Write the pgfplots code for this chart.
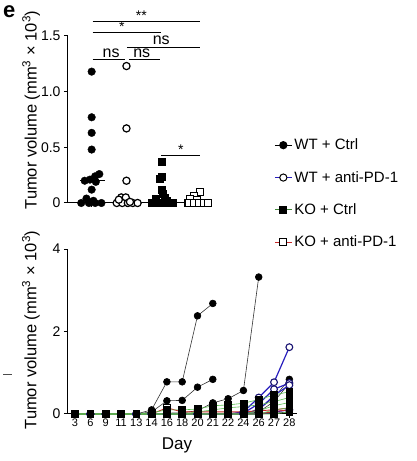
\documentclass[border=0pt]{standalone}
\usepackage{pgfplots}
\pgfplotsset{compat=1.18}
\usepackage{fontspec}
\setmainfont{Liberation Sans}
\definecolor{wtblue}{RGB}{40,30,190}
\definecolor{kogreen}{RGB}{90,190,80}
\definecolor{kored}{RGB}{200,40,40}
\pgfplotsset{
  common/.style={scale only axis, axis x line=bottom, axis y line=left,
    axis line style={-, line width=1pt}, tick align=outside, major tick length=4pt,
    tick style={line width=1pt, black}, /pgf/number format/assume math mode=true,
    clip=false},
  wtc/.style={black!80, line width=0.6pt, mark=*, mark size=3.4pt, mark options={fill=black, draw=black}},
  wta/.style={wtblue, line width=1.2pt, mark=*, mark size=3.4pt, mark options={fill=white, draw=wtblue!60!black, line width=1.1pt}},
  kor/.style={kored, line width=0.9pt, mark=square*, mark size=3.2pt, mark options={fill=white, draw=black, line width=1pt}},
  kog/.style={kogreen, line width=0.6pt, mark=square*, mark size=3.4pt, mark options={fill=black, draw=black}},
}
\begin{document}
\begin{tikzpicture}[x=1pt,y=1pt]
\path[use as bounding box] (0pt,0pt) rectangle (416pt,461pt);
\node[font=\bfseries\fontsize{22}{22}\selectfont, anchor=base west, inner sep=0pt] at (3pt,443pt) {e};
\draw[line width=0.8pt, black!70] (3pt,87pt) -- (12pt,87pt);
% ---------- top panel ----------
\begin{axis}[common,
  at={(68pt,258pt)}, anchor=south west, width=142pt, height=167pt,
  xmin=-0.68, xmax=3.4, ymin=0, ymax=1.5,
  xtick={0,1,2,3}, xticklabels={},
  ytick={0,0.5,1,1.5}, yticklabels={0,0.5,1.0,1.5},
  ticklabel style={font=\fontsize{14}{14}\selectfont},
  ylabel={Tumor volume (mm\textsuperscript{3} × 10\textsuperscript{3})},
  ylabel style={font=\fontsize{16.5}{16.5}\selectfont, at={(axis description cs:-0.26,0.557)}, anchor=center},
]
\addplot[only marks, mark=*, mark size=3.8pt, black] coordinates {
 (0,1.18)(0,0.77)(0,0.63)(0,0.48)(-0.2,0.2)(-0.05,0.21)(0.1,0.24)(0.22,0.26)(0.12,0.19)(0,0.12)
 (-0.15,0.04)(-0.3,0)(-0.08,0)(0.1,0)(0.28,0)(0.05,0.02)};
\draw[line width=1pt] (axis cs:-0.33,0.2) -- (axis cs:0.38,0.2);
\addplot[only marks, mark=*, mark size=3.6pt, mark options={fill=white, draw=black, line width=1.2pt}] coordinates {
 (1,1.23)(1,0.67)(1,0.2)(0.85,0.05)(0.98,0.05)(0.72,0)(0.88,0)(1.04,0)(1.18,0)(1.32,0)(1.1,0.01)(0.78,0.03)};
\draw[line width=1pt] (axis cs:0.7,0) -- (axis cs:1.35,0);
\addplot[only marks, mark=square*, mark size=3.5pt, black] coordinates {
 (2,0.37)(2,0.24)(1.95,0.22)(2,0.12)(2.05,0.08)(1.85,0.04)(2.1,0.05)(1.72,0)(1.88,0)(2.03,0)(2.18,0)(2.32,0)(2.15,0.02)};
\addplot[only marks, mark=square*, mark size=3.4pt, mark options={fill=white, draw=black, line width=1.1pt}] coordinates {
 (3.12,0.1)(2.95,0.06)(2.82,0.04)(3.02,0.03)(2.78,0)(2.93,0)(3.08,0)(3.22,0)(3.34,0)};
% significance
\draw[line width=1pt] (axis cs:0.03,1.626) -- (axis cs:3.12,1.626);
\node[anchor=base, font=\fontsize{14}{14}\selectfont, inner sep=0pt] at (axis cs:1.43,1.636) {**};
\draw[line width=1pt] (axis cs:0.03,1.527) -- (axis cs:2.0,1.527);
\node[anchor=base, font=\fontsize{14}{14}\selectfont, inner sep=0pt] at (axis cs:0.87,1.537) {*};
\draw[line width=1pt] (axis cs:1.01,1.40) -- (axis cs:3.12,1.40);
\node[anchor=base, font=\fontsize{16}{16}\selectfont, inner sep=0pt] at (axis cs:2.0,1.425) {ns};
\draw[line width=1pt] (axis cs:0.03,1.285) -- (axis cs:0.97,1.285);
\node[anchor=base, font=\fontsize{16}{16}\selectfont, inner sep=0pt] at (axis cs:0.56,1.31) {ns};
\draw[line width=1pt] (axis cs:1.07,1.285) -- (axis cs:1.97,1.285);
\node[anchor=base, font=\fontsize{16}{16}\selectfont, inner sep=0pt] at (axis cs:1.44,1.31) {ns};
\draw[line width=1pt] (axis cs:2.0,0.43) -- (axis cs:3.12,0.43);
\node[anchor=base, font=\fontsize{14}{14}\selectfont, inner sep=0pt] at (axis cs:2.56,0.44) {*};
\end{axis}
% ---------- bottom panel ----------
\begin{axis}[common,
  at={(68pt,47pt)}, anchor=south west, width=229pt, height=165pt,
  xmin=-0.46, xmax=14.5, ymin=0, ymax=4,
  xtick={0,...,14}, xticklabels={3,6,9,11,13,14,16,18,20,21,22,24,26,27,28},
  ytick={0,2,4},
  xticklabel style={font=\fontsize{11}{11}\selectfont, inner sep=1pt},
  yticklabel style={font=\fontsize{14}{14}\selectfont},
  xlabel={Day}, xlabel style={font=\fontsize{17}{17}\selectfont, at={(axis description cs:0.476,-0.188)}, anchor=center},
  ylabel={Tumor volume (mm\textsuperscript{3} × 10\textsuperscript{3})},
  ylabel style={font=\fontsize{16.5}{16.5}\selectfont, at={(axis description cs:-0.162,0.509)}, anchor=center},
  legend style={at={(axis description cs:0.9,1.68)}, anchor=north west, draw=none, fill=none,
    font=\fontsize{15}{15}\selectfont, row sep=16pt, inner sep=0pt},
  legend cell align=left,
]
\addlegendimage{black, line width=1pt, mark=*, mark size=3.6pt}
\addlegendentry{WT + Ctrl}
\addlegendimage{wtblue, line width=1pt, mark=*, mark size=3.6pt, mark options={fill=white, draw=black, line width=1pt}}
\addlegendentry{WT + anti-PD-1}
\addlegendimage{kogreen!70!black, line width=1pt, mark=square*, mark size=3.6pt, mark options={fill=black, draw=black}}
\addlegendentry{KO + Ctrl}
\addlegendimage{kored, line width=1pt, mark=square*, mark size=3.6pt, mark options={fill=white, draw=black, line width=1pt}}
\addlegendentry{KO + anti-PD-1}
% WT + Ctrl
\addplot[wtc, forget plot] coordinates {(0,0)(1,0)(2,0)(3,0)(4,0)(5,0.1)(6,0.78)(7,0.78)(8,2.38)(9,2.68)};
\addplot[wtc, forget plot] coordinates {(0,0)(1,0)(2,0)(3,0)(4,0)(5,0.05)(6,0.32)(7,0.33)(8,0.65)(9,0.84)};
\addplot[wtc, forget plot] coordinates {(0,0)(1,0)(2,0)(3,0)(4,0)(5,0)(6,0.02)(7,0.03)(8,0.08)(9,0.27)(10,0.37)(11,0.57)(12,3.32)};
\addplot[wtc, forget plot] coordinates {(0,0)(1,0)(2,0)(3,0)(4,0)(5,0)(6,0)(7,0)(8,0)(9,0)(10,0)(11,0)(12,0.12)(13,0.4)(14,0.84)};
\addplot[wtc, forget plot] coordinates {(0,0)(1,0)(2,0)(3,0)(4,0)(5,0)(6,0)(7,0)(8,0)(9,0)(10,0)(11,0)(12,0.05)(13,0.3)(14,0.75)};
\addplot[wtc, forget plot] coordinates {(0,0)(1,0)(2,0)(3,0)(4,0)(5,0)(6,0)(7,0)(8,0)(9,0)(10,0)(11,0)(12,0)(13,0.02)(14,0.05)};
% WT + anti-PD-1
\addplot[wta, forget plot] coordinates {(0,0)(1,0)(2,0)(3,0)(4,0)(5,0)(6,0)(7,0)(8,0)(9,0)(10,0)(11,0.05)(12,0.4)(13,0.77)(14,1.62)};
\addplot[wta, forget plot] coordinates {(0,0)(1,0)(2,0)(3,0)(4,0)(5,0)(6,0)(7,0)(8,0)(9,0)(10,0)(11,0.02)(12,0.25)(13,0.6)(14,0.75)};
\addplot[wta, forget plot] coordinates {(0,0)(1,0)(2,0)(3,0)(4,0)(5,0)(6,0)(7,0)(8,0)(9,0)(10,0)(11,0)(12,0.1)(13,0.45)(14,0.7)};
\addplot[wta, forget plot] coordinates {(0,0)(1,0)(2,0)(3,0)(4,0)(5,0)(6,0)(7,0)(8,0)(9,0)(10,0)(11,0)(12,0)(13,0.05)(14,0.1)};
% KO + anti-PD-1
\addplot[kor, forget plot] coordinates {(0,0)(1,0)(2,0)(3,0)(4,0)(5,0)(6,0.15)(7,0.05)(8,0.05)(9,0.05)(10,0.05)(11,0.05)(12,0.08)(13,0.1)(14,0.15)};
\addplot[kor, forget plot] coordinates {(0,0)(1,0)(2,0)(3,0)(4,0)(5,0)(6,0)(7,0)(8,0)(9,0)(10,0)(11,0)(12,0)(13,0.06)(14,0.1)};
% KO + Ctrl
\addplot[kog, forget plot] coordinates {(0,0)(1,0)(2,0)(3,0)(4,0)(5,0.03)(6,0.1)(7,0.1)(8,0.12)(9,0.2)(10,0.22)(11,0.26)(12,0.35)(13,0.46)(14,0.54)};
\addplot[kog, forget plot] coordinates {(0,0)(1,0)(2,0)(3,0)(4,0)(5,0)(6,0)(7,0)(8,0.05)(9,0.1)(10,0.15)(11,0.18)(12,0.22)(13,0.3)(14,0.4)};
\addplot[kog, forget plot] coordinates {(0,0)(1,0)(2,0)(3,0)(4,0)(5,0)(6,0)(7,0)(8,0)(9,0)(10,0)(11,0)(12,0.08)(13,0.2)(14,0.28)};
\addplot[kog, forget plot] coordinates {(0,0)(1,0)(2,0)(3,0)(4,0)(5,0)(6,0)(7,0)(8,0)(9,0)(10,0)(11,0)(12,0)(13,0.1)(14,0.15)};
\addplot[kog, forget plot] coordinates {(0,0)(1,0)(2,0)(3,0)(4,0)(5,0)(6,0)(7,0)(8,0)(9,0)(10,0)(11,0)(12,0)(13,0)(14,0.05)};
\end{axis}
\end{tikzpicture}
\end{document}
